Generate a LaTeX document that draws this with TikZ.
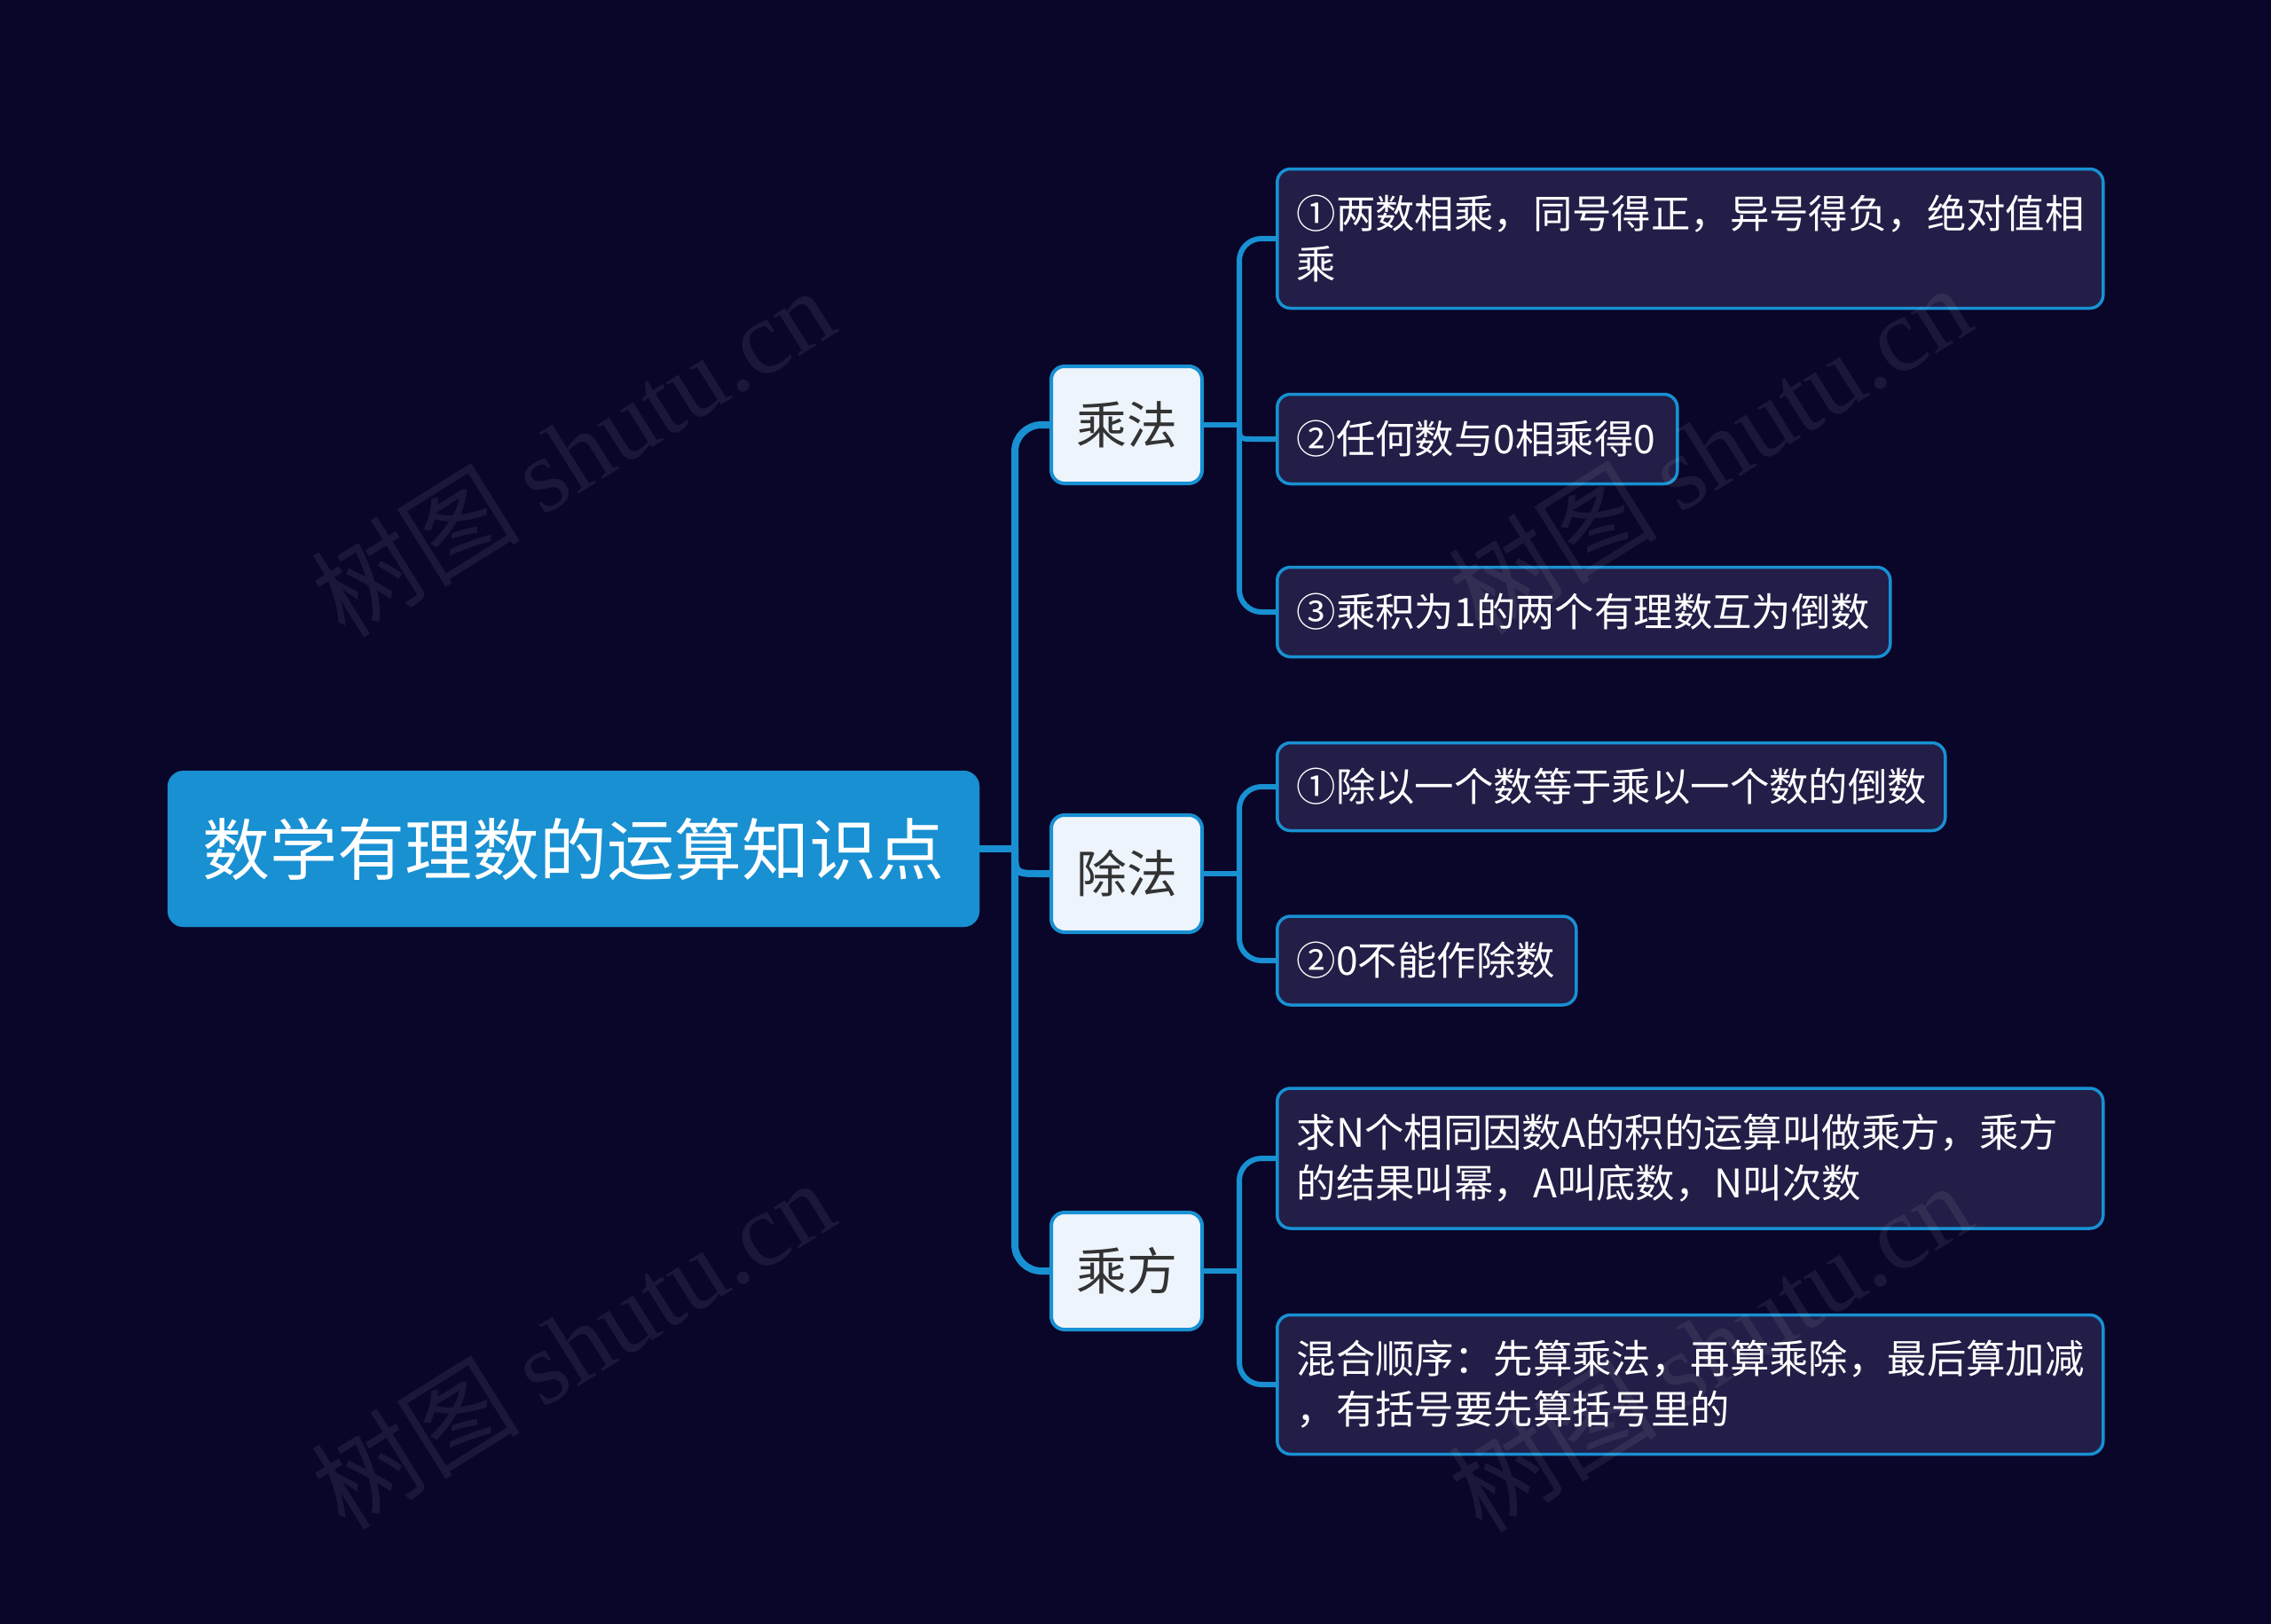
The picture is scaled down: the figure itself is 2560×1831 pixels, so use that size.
\documentclass[tikz,border=0pt]{standalone}
\usepackage{fontspec}
\setmainfont{Noto Sans CJK SC}
\newfontfamily\wmlatin{Liberation Serif}
\definecolor{bg}{HTML}{0A0629}
\definecolor{mainblue}{HTML}{1890D2}
\definecolor{leaffill}{HTML}{221E47}
\definecolor{subfill}{HTML}{EEF4FC}
\definecolor{subtext}{HTML}{333333}
\tikzset{
  rootbox/.style={fill=mainblue, draw=mainblue, rounded corners=18pt, text=white,
    font=\fontsize{76}{90}\selectfont, minimum width=915pt, minimum height=176pt, inner sep=0pt},
  subbox/.style={fill=subfill, draw=mainblue, line width=4pt, rounded corners=15pt, text=subtext,
    font=\fontsize{57}{68}\selectfont, minimum width=170pt, minimum height=132pt, inner sep=0pt},
  leafbox/.style={fill=leaffill, draw=mainblue, line width=3.5pt, rounded corners=15pt, text=white,
    font=\fontsize{44.4}{57}\selectfont, anchor=west, align=left, inner xsep=22pt, inner ysep=0pt},
  link/.style={draw=mainblue, line width=8pt},
  sublink/.style={draw=mainblue, line width=6pt},
  wmark/.style={rotate=32, text=white, opacity=0.07, font=\fontsize{118}{130}\selectfont},
}
\begin{document}
\begin{tikzpicture}[x=1pt,y=-1pt]
\useasboundingbox (0,0) rectangle (2560,1831);
\fill[bg] (0,0) rectangle (2560,1831);

\node[rootbox] (root) at (646.5,957) {数学有理数的运算知识点};

\node[subbox] (s1) at (1270,479) {乘法};
\node[subbox] (s2) at (1270,985) {除法};
\node[subbox] (s3) at (1270,1433) {乘方};

\node[leafbox, text width=887pt, minimum height=157pt] (l1) at (1438,269) {①两数相乘，同号得正，异号得负，绝对值相\\乘};
\node[leafbox, text width=407pt, minimum height=101pt] (l2) at (1438,495) {②任何数与0相乘得0};
\node[leafbox, text width=647pt, minimum height=101pt] (l3) at (1438,690) {③乘积为1的两个有理数互为倒数};
\node[leafbox, text width=709pt, minimum height=99pt] (l4) at (1438,887) {①除以一个数等于乘以一个数的倒数};
\node[leafbox, text width=293pt, minimum height=100pt] (l5) at (1438,1083) {②0不能作除数};
\node[leafbox, text width=887pt, minimum height=158pt] (l6) at (1438,1306) {求N个相同因数A的积的运算叫做乘方，乘方\\的结果叫幂，A叫底数，N叫次数};
\node[leafbox, text width=887pt, minimum height=157pt] (l7) at (1438,1561) {混合顺序：先算乘法，再算乘除，最后算加减\\，有括号要先算括号里的};

% root connectors
\coordinate (rj) at (1144,957);
\draw[link] (root.east) -- (rj);
\draw[link, rounded corners=30pt] (rj) |- (s1.west);
\draw[link] (rj) .. controls (1144,985) .. (1172,985) -- (s2.west);
\draw[link, rounded corners=30pt] (rj) |- (s3.west);

% sub 1
\coordinate (j1) at (1397,479);
\draw[sublink] (s1.east) -- (j1);
\draw[sublink, rounded corners=25pt] (j1) |- (l1.west);
\draw[sublink] (j1) .. controls (1397,495) .. (1413,495) -- (l2.west);
\draw[sublink, rounded corners=25pt] (j1) |- (l3.west);

% sub 2
\coordinate (j2) at (1397,985);
\draw[sublink] (s2.east) -- (j2);
\draw[sublink, rounded corners=25pt] (j2) |- (l4.west);
\draw[sublink, rounded corners=25pt] (j2) |- (l5.west);

% sub 3
\coordinate (j3) at (1397,1433);
\draw[sublink] (s3.east) -- (j3);
\draw[sublink, rounded corners=25pt] (j3) |- (l6.west);
\draw[sublink, rounded corners=25pt] (j3) |- (l7.west);

% watermarks
\node[wmark] (w1) at (645,509) {树图 {\wmlatin shutu.cn}};
\node[wmark] (w2) at (1927,506) {树图 {\wmlatin shutu.cn}};
\node[wmark] (w3) at (645,1515) {树图 {\wmlatin shutu.cn}};
\node[wmark] (w4) at (1927,1518) {树图 {\wmlatin shutu.cn}};
\end{tikzpicture}
\end{document}
